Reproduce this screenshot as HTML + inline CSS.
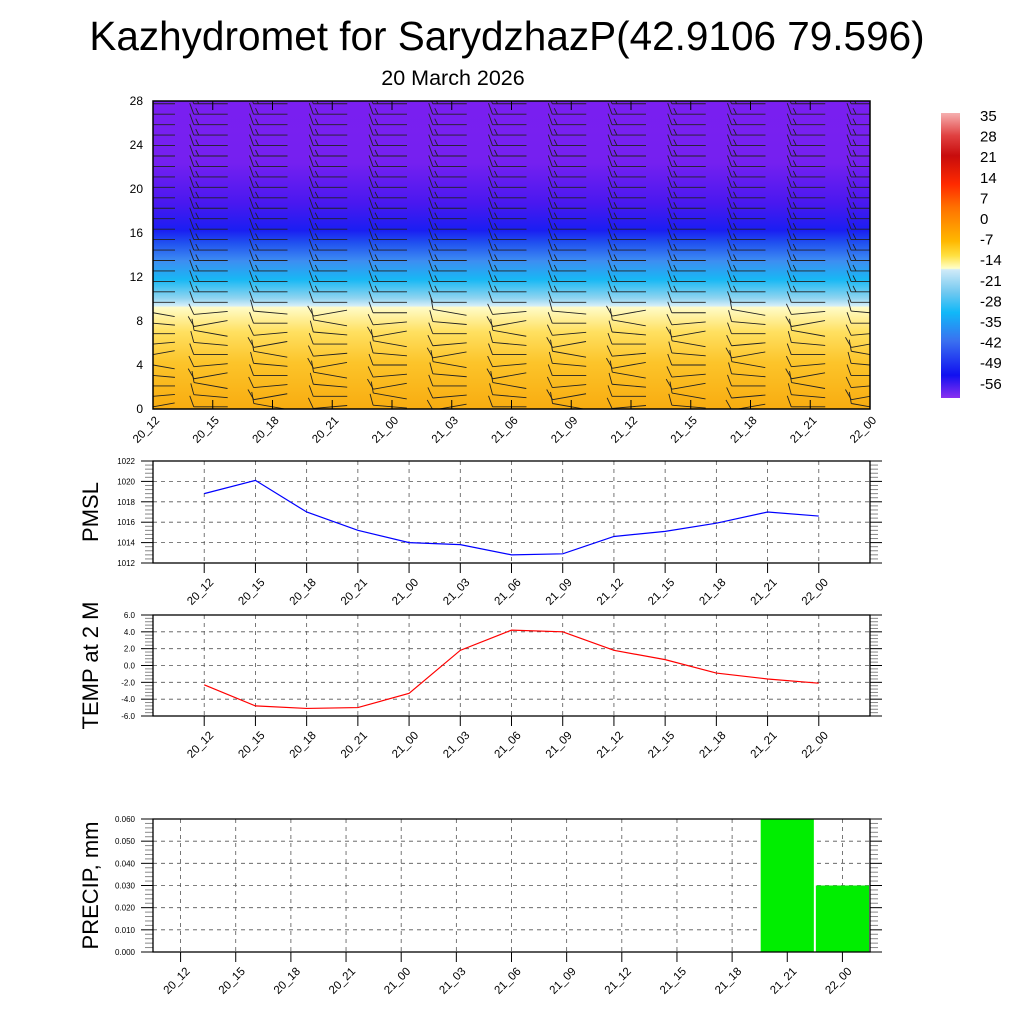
<!DOCTYPE html>
<html><head><meta charset="utf-8"><style>
body{margin:0;background:#fff;font-family:"Liberation Sans",sans-serif}
svg text{font-family:"Liberation Sans",sans-serif}
</style></head><body>
<svg id="s" width="1024" height="1024" viewBox="0 0 1024 1024">
<defs>
<clipPath id="pc"><rect x="153" y="101" width="717" height="308"/></clipPath>
<linearGradient id="tg" x1="0" y1="0" x2="0" y2="1">
<stop offset="0" stop-color="#7a1ff0"/><stop offset="0.2" stop-color="#7520f0"/>
<stop offset="0.33" stop-color="#4a18f0"/><stop offset="0.42" stop-color="#1a1ef2"/>
<stop offset="0.46" stop-color="#2050f0"/><stop offset="0.52" stop-color="#3d8ef2"/>
<stop offset="0.58" stop-color="#18b8f4"/><stop offset="0.64" stop-color="#90d4f0"/>
<stop offset="0.665" stop-color="#d4eef8"/><stop offset="0.67" stop-color="#fffcc8"/>
<stop offset="0.75" stop-color="#ffe060"/><stop offset="0.85" stop-color="#fcc42a"/>
<stop offset="1" stop-color="#f8ac10"/></linearGradient>
<linearGradient id="cb" x1="0" y1="0" x2="0" y2="1">
<stop offset="0" stop-color="#f6b0b0"/><stop offset="0.08" stop-color="#e04040"/>
<stop offset="0.15" stop-color="#c80c0c"/><stop offset="0.25" stop-color="#ff2a00"/>
<stop offset="0.33" stop-color="#ff7000"/><stop offset="0.45" stop-color="#ffb800"/>
<stop offset="0.5" stop-color="#ffe040"/><stop offset="0.545" stop-color="#ffffc8"/>
<stop offset="0.55" stop-color="#d0eaf8"/><stop offset="0.63" stop-color="#70c8f0"/>
<stop offset="0.7" stop-color="#10b8f8"/><stop offset="0.8" stop-color="#3a70f0"/>
<stop offset="0.92" stop-color="#1010f0"/><stop offset="1" stop-color="#8a30f0"/></linearGradient>
</defs>
<text x="507" y="50" font-size="40.5" text-anchor="middle">Kazhydromet for SarydzhazP(42.9106 79.596)</text>
<text x="453" y="85" font-size="21.5" text-anchor="middle">20 March 2026</text>
<rect x="153" y="101" width="717" height="308" fill="url(#tg)"/>
<g id="barbs" clip-path="url(#pc)"></g>
<rect x="153" y="101" width="717" height="308" fill="none" stroke="#000" stroke-width="1.5"/>
<g id="topAxes"></g>
<rect x="941" y="113" width="19" height="285" fill="url(#cb)"/>
<g id="cbl"></g>
<g id="p1"></g>
<g id="p2"></g>
<g id="p3"></g>
</svg>
<script>
const times=["20_12","20_15","20_18","20_21","21_00","21_03","21_06","21_09","21_12","21_15","21_18","21_21","22_00"];
const pmsl=[1018.8,1020.1,1017.0,1015.2,1014.0,1013.8,1012.8,1012.9,1014.6,1015.1,1015.9,1017.0,1016.6];
const temp=[-2.3,-4.8,-5.1,-5.0,-3.3,1.8,4.2,4.0,1.8,0.7,-0.9,-1.6,-2.1];
const precip=[0,0,0,0,0,0,0,0,0,0,0,0.06,0.03];
const heightTicks=[0,4,8,12,16,20,24,28];
const cbLabels=["35","28","21","14","7","0","-7","-14","-21","-28","-35","-42","-49","-56"];
const NS="http://www.w3.org/2000/svg";
function mk(p,t,a,txt){const e=document.createElementNS(NS,t);for(const k in a)e.setAttribute(k,a[k]);if(txt!==undefined)e.textContent=txt;p.appendChild(e);return e;}
const topG=document.getElementById('topAxes');
const tx=i=>153+i*717/12, ty=h=>409-h*308/28;
heightTicks.forEach(h=>{const e=mk(topG,'text',{x:143,y:ty(h)+4,'font-size':12,'text-anchor':'end'},h);

});
times.forEach((t,i)=>{const x=tx(i);mk(topG,'line',{x1:x,y1:409,x2:x,y2:400,stroke:'#000'});mk(topG,'line',{x1:x,y1:101,x2:x,y2:110,stroke:'#000'});
const e=mk(topG,'text',{x:x+7,y:421,'font-size':11.5,'text-anchor':'end',transform:`rotate(-45 ${x+7} 421)`},t);

});
const bg=document.getElementById('barbs');
for(let i=0;i<13;i++)for(let h=0.2;h<28;h+=0.95){const x=tx(i),y=ty(h);
const ang=h<9?(-10+((i*7+Math.round(h))%5)*5):0;
const g=mk(bg,'g',{transform:`rotate(${ang} ${x} ${y})`,stroke:'#222','stroke-width':0.9});
if(i===0){mk(g,'line',{x1:x,y1:y,x2:x+22,y2:y});continue;}
mk(g,'line',{x1:x-19,y1:y,x2:x+15,y2:y});
mk(g,'line',{x1:x-19,y1:y,x2:x-23,y2:y-11});
if(h>10)mk(g,'line',{x1:x-14,y1:y,x2:x-17,y2:y-6});}
const cbl=document.getElementById('cbl');
cbLabels.forEach((l,k)=>{const e=mk(cbl,'text',{x:980,y:121+k*20.6,'font-size':15},l);

});
function panel(g,y0,y1,min,max,step,fmt,title,series,color,bar,tickOffset){
const L=153,R=870;
const X=bar?(i=>L+(i+0.5)*(R-L)/13):(i=>L+(i+1)*(R-L)/14);
const Y=v=>y1-(v-min)/(max-min)*(y1-y0);
const n=Math.round((max-min)/step);
for(let k=0;k<=n;k++){const v=min+k*step;const y=Y(v);
if(k>0&&k<n)mk(g,'line',{x1:L,y1:y,x2:R,y2:y,stroke:'#555','stroke-dasharray':'4 4','stroke-width':0.8});
mk(g,'line',{x1:L-12,y1:y,x2:L,y2:y,stroke:'#000'});mk(g,'line',{x1:R,y1:y,x2:R+12,y2:y,stroke:'#000'});
const e=mk(g,'text',{x:L-18,y:y+3,'font-size':8,'text-anchor':'end'},fmt(v));


if(k<n)for(let m=1;m<5;m++){const ym=Y(v+m*step/5);mk(g,'line',{x1:L-8,y1:ym,x2:L,y2:ym,stroke:'#888'});mk(g,'line',{x1:R,y1:ym,x2:R+8,y2:ym,stroke:'#888'});}}
times.forEach((t,i)=>{const x=X(i);mk(g,'line',{x1:x,y1:y0,x2:x,y2:y1,stroke:'#555','stroke-dasharray':'4 4','stroke-width':0.8});});
if(bar){series.forEach((v,i)=>{if(v>0){const w=(R-L)/13;const r=mk(g,'rect',{x:X(i)-w/2+1,y:Y(v),width:w-2,height:y1-Y(v),fill:'#00ee00'});

}});}
else{const p=mk(g,'polyline',{points:series.map((v,i)=>X(i)+','+Y(v)).join(' '),fill:'none',stroke:color,'stroke-width':1.2});

}
mk(g,'rect',{x:L,y:y0,width:R-L,height:y1-y0,fill:'none',stroke:'#000','stroke-width':1.3});
times.forEach((t,i)=>{const x=X(i);mk(g,'line',{x1:x,y1:y1,x2:x,y2:y1+10,stroke:'#000'});
const ly=y1+tickOffset;const e=mk(g,'text',{x:x+10,y:ly,'font-size':11.5,'text-anchor':'end',transform:`rotate(-45 ${x+10} ${ly})`},t);

});
const yt=mk(g,'text',{x:98,y:(y0+y1)/2,'font-size':22,'text-anchor':'middle',transform:`rotate(-90 98 ${(y0+y1)/2})`},title);

}
panel(document.getElementById('p1'),461,563,1012,1022,2,v=>v.toFixed(0),'PMSL',pmsl,'#0000ff',false,20);
panel(document.getElementById('p2'),615,716,-6,6,2,v=>v.toFixed(1),'TEMP at 2 M',temp,'#ff0000',false,20);
panel(document.getElementById('p3'),819,952,0,0.06,0.01,v=>v.toFixed(3),'PRECIP, mm',precip,'',true,20);
</script>
</body></html>
